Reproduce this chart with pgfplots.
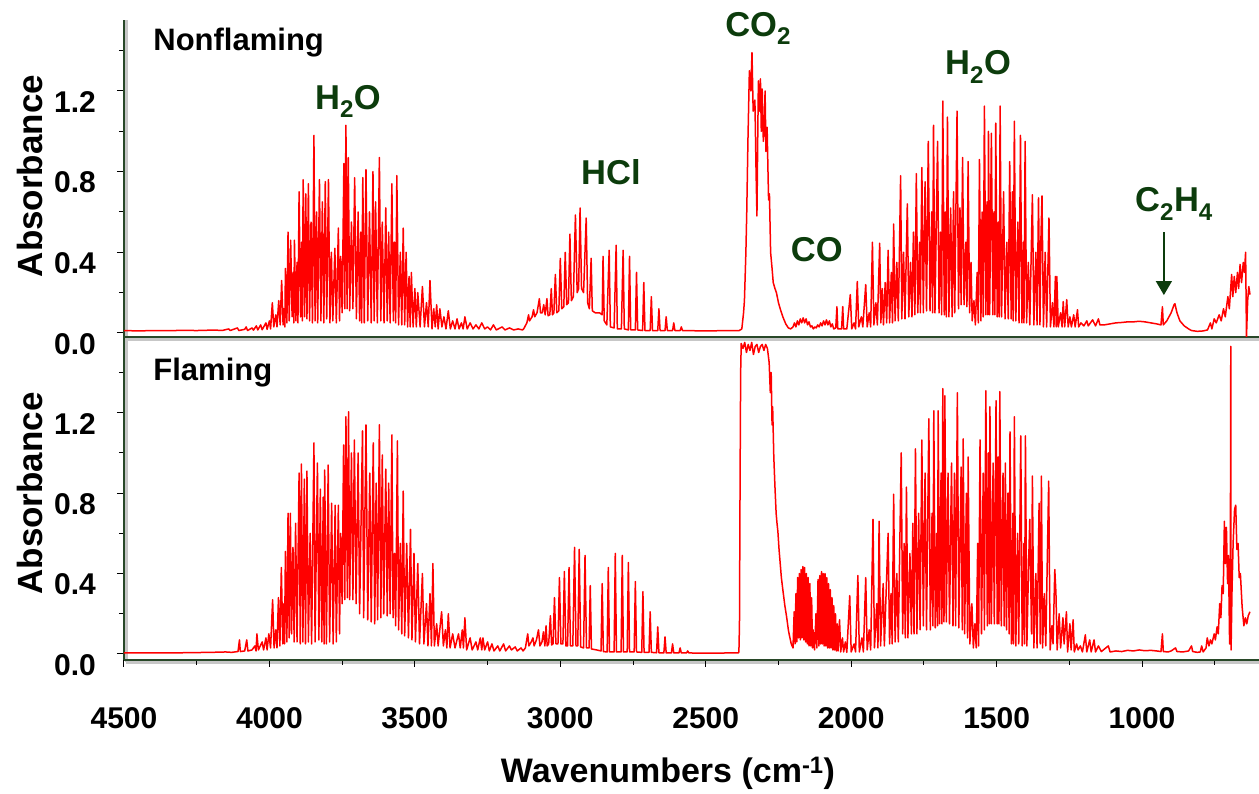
\documentclass[border=0pt]{standalone}
\usepackage{fontspec}
\setmainfont{Liberation Sans}
\usepackage{pgfplots}
\pgfplotsset{compat=1.18}
\usetikzlibrary{arrows.meta}
\definecolor{axgreen}{RGB}{40,72,40}
\definecolor{annot}{RGB}{12,60,12}
\definecolor{specred}{RGB}{255,0,0}
\pgfplotsset{
  panel/.style={
    scale only axis, width=1135pt, x dir=reverse, xmin=598, xmax=4500,
    axis x line*=bottom, axis y line*=left,
    axis line style={axgreen, line width=2pt},
    ytick={0,0.4,0.8,1.2}, yticklabels={0.0,0.4,0.8,1.2},
    minor ytick={0.2,0.6,1.0,1.4},
    tick style={black, line width=1pt}, tick align=outside,
    major tick length=7pt, minor tick length=5pt,
    ticklabel style={font=\fontsize{30}{30}\selectfont\bfseries},
    yticklabel style={anchor=east, inner sep=0pt, xshift=-21pt, yshift=-11pt},
    xticklabel style={anchor=base, inner sep=0pt, yshift=-62pt},
    clip mode=individual,
  },
  spec/.style={specred, line width=1.5pt, line join=round, mark=none},
}
\begin{document}
\begin{tikzpicture}
% light shadows under the axis lines
\draw[black!22, line width=2.5pt] (2pt,-2.5pt) -- (1135pt,-2.5pt);
\draw[black!22, line width=2.5pt] (2pt,320.5pt) -- (1135pt,320.5pt);
\draw[black!22, line width=2.5pt] (2.5pt,-2pt) -- (2.5pt,640pt);
% ---------------- Flaming (bottom) ----------------
\begin{axis}[panel, at={(0pt,0pt)}, anchor=south west, height=323pt,
  ymin=-0.03, ymax=1.577,
  xtick={1000,1500,2000,2500,3000,3500,4000,4500},
  xticklabels={1000,1500,2000,2500,3000,3500,4000,4500},
  minor xtick={750,1250,1750,2250,2750,3250,3750,4250}]
\addplot[spec] coordinates {
(4500,0.005) (4400,0.006) (4300,0.006) (4200,0.008) (4150,0.010) (4130,0.008) (4108,0.012) (4103,0.07) (4100,0.012)
(4085,0.015) (4078,0.07) (4074,0.015) (4060,0.02) (4050,0.04) (4046,0.015) (4043,0.10) (4038,0.02) (4025,0.06) (4020,0.02)
(4012,0.08) (4008,0.02) (4002,0.10) (3996,0.03)
(3989,0.27) (3984,0.03) (3978,0.12) (3974,0.03) (3969,0.28) (3964,0.04) (3959,0.43) (3954,0.05) (3950,0.25) (3948,0.05)
(3945,0.51) (3940,0.06) (3936,0.70) (3932,0.08) (3928,0.70) (3924,0.10) (3919,0.53) (3915,0.06) (3910,0.65) (3905,0.06)
(3898,0.90) (3894,0.05) (3890,0.945) (3885,0.06) (3880,0.87) (3876,0.05) (3871,0.91) (3866,0.06) (3860,0.60) (3855,0.05)
(3847,1.05) (3843,0.06) (3835,0.95) (3830,0.07) (3825,0.82) (3820,0.06) (3815,0.78) (3812,0.05) (3810,0.915) (3804,0.05)
(3798,0.94) (3793,0.06) (3786,0.75) (3781,0.05) (3774,0.74) (3770,0.06) (3763,0.74) (3759,0.10) (3755,0.60) (3750,0.25)
(3745,1.04) (3741,0.27) (3737,1.18) (3732,0.28) (3728,1.205) (3724,0.27) (3718,1.00) (3713,0.27) (3708,1.065) (3702,0.25)
(3695,1.00) (3690,0.20) (3680,1.11) (3676,0.18) (3668,1.14) (3662,0.17) (3655,0.90) (3650,0.16) (3643,1.05) (3638,0.15)
(3633,0.85) (3628,0.17) (3622,1.14) (3617,0.18) (3612,0.99) (3607,0.20) (3600,0.92) (3595,0.19) (3590,0.85) (3585,0.20)
(3579,1.09) (3575,0.18) (3570,0.50) (3566,0.14) (3560,1.06) (3556,0.12) (3550,0.55) (3545,0.10) (3540,0.81) (3535,0.09)
(3528,0.55) (3522,0.08) (3515,0.62) (3510,0.07) (3503,0.50) (3498,0.06) (3490,0.45) (3484,0.05) (3474,0.40) (3469,0.05)
(3460,0.25) (3455,0.04) (3448,0.30) (3443,0.04) (3438,0.45) (3433,0.04) (3425,0.15) (3420,0.04) (3408,0.21) (3402,0.04)
(3395,0.12) (3390,0.03) (3385,0.20) (3379,0.03) (3370,0.10) (3362,0.03) (3350,0.10) (3344,0.03) (3337,0.12) (3333,0.03)
(3328,0.18) (3322,0.02) (3310,0.08) (3303,0.02) (3290,0.06) (3284,0.02) (3275,0.08) (3270,0.02) (3266,0.08) (3260,0.02)
(3250,0.06) (3244,0.015) (3235,0.05) (3228,0.015) (3215,0.04) (3208,0.015) (3195,0.05) (3188,0.015) (3175,0.04) (3168,0.02)
(3155,0.035) (3148,0.015) (3135,0.03) (3128,0.015)
(3120,0.03) (3112,0.10) (3108,0.04) (3100,0.06) (3094,0.08) (3090,0.04) (3082,0.07) (3075,0.12) (3070,0.04) (3063,0.06)
(3058,0.11) (3053,0.04) (3049,0.14) (3045,0.04) (3040,0.05) (3034,0.19) (3030,0.045) (3025,0.05) (3020,0.28) (3015,0.05)
(3008,0.05) (3003,0.38) (2998,0.05) (2991,0.05) (2986,0.41) (2981,0.04) (2975,0.04) (2970,0.43) (2965,0.04) (2957,0.04)
(2951,0.53) (2946,0.04) (2940,0.04) (2935,0.52) (2930,0.035) (2920,0.03) (2915,0.49) (2910,0.03) (2901,0.03) (2897,0.34)
(2893,0.025) (2875,0.02) (2860,0.015) (2856,0.35) (2852,0.012) (2839,0.01) (2835,0.43) (2831,0.01) (2815,0.01) (2811,0.50)
(2807,0.01) (2791,0.01) (2787,0.49) (2783,0.01) (2770,0.01) (2766,0.455) (2762,0.01) (2746,0.01) (2742,0.36) (2738,0.01)
(2720,0.008) (2716,0.31) (2712,0.008) (2695,0.008) (2691,0.21) (2687,0.008) (2669,0.006) (2665,0.135) (2661,0.006)
(2644,0.005) (2640,0.085) (2636,0.005) (2618,0.005) (2614,0.05) (2610,0.005) (2592,0.005) (2588,0.03) (2584,0.005)
(2566,0.005) (2562,0.015) (2558,0.005) (2500,0.004) (2420,0.005) (2388,0.005)
(2386,0.01) (2384,0.15) (2382,0.85) (2380,1.40) (2378,1.545) (2372,1.52) (2366,1.55) (2360,1.50) (2354,1.54) (2348,1.51)
(2342,1.55) (2336,1.49) (2330,1.53) (2324,1.54) (2318,1.50) (2312,1.53) (2306,1.54) (2300,1.51) (2294,1.54) (2288,1.52)
(2282,1.45) (2278,1.30) (2275,1.40) (2272,1.14) (2270,1.23) (2266,0.98) (2262,0.83) (2258,0.70) (2255,0.65) (2252,0.61)
(2248,0.52) (2244,0.45) (2240,0.38) (2235,0.32) (2228,0.24) (2222,0.185) (2216,0.12) (2212,0.09) (2206,0.05)
(2200,0.03) (2196,0.21) (2193,0.05) (2190,0.30) (2187,0.06) (2184,0.38) (2181,0.08) (2178,0.40) (2175,0.07) (2172,0.42)
(2169,0.08) (2166,0.435) (2163,0.07) (2160,0.43) (2157,0.06) (2154,0.40) (2151,0.05) (2148,0.38) (2145,0.04) (2142,0.35)
(2139,0.04) (2136,0.28) (2133,0.03) (2131,0.12) (2126,0.02) (2121,0.20) (2118,0.03) (2114,0.37) (2111,0.04) (2108,0.39)
(2105,0.05) (2102,0.41) (2099,0.05) (2096,0.40) (2093,0.04) (2090,0.40) (2087,0.04) (2084,0.38) (2081,0.03) (2078,0.35)
(2075,0.03) (2072,0.32) (2069,0.03) (2066,0.28) (2063,0.02) (2060,0.24) (2057,0.02) (2054,0.20) (2051,0.015) (2048,0.15)
(2045,0.015) (2040,0.17) (2036,0.01) (2030,0.08) (2026,0.01) (2020,0.06) (2015,0.008) (2005,0.29) (2000,0.01) (1990,0.05)
(1985,0.01) (1977,0.39) (1972,0.01) (1963,0.08) (1958,0.01) (1950,0.38) (1945,0.02) (1938,0.12) (1933,0.02)
(1925,0.67) (1920,0.03) (1912,0.25) (1908,0.03) (1904,0.66) (1899,0.04) (1890,0.35) (1886,0.04) (1873,0.60) (1868,0.05)
(1863,0.30) (1859,0.05) (1854,0.795) (1849,0.06) (1843,0.40) (1838,0.06) (1828,1.00) (1823,0.10) (1818,0.55) (1814,0.08)
(1810,0.83) (1805,0.08) (1798,0.50) (1793,0.10) (1788,0.65) (1784,0.10) (1779,1.02) (1774,0.10) (1768,0.70) (1763,0.12)
(1757,1.065) (1752,0.14) (1746,0.90) (1741,0.12) (1733,1.17) (1728,0.12) (1722,0.70) (1719,0.14) (1716,1.21) (1711,0.13)
(1706,0.60) (1703,0.14) (1701,1.21) (1696,0.15) (1691,0.90) (1688,0.15) (1685,1.32) (1681,0.16) (1678,1.285) (1673,0.16)
(1667,0.90) (1662,0.15) (1655,0.95) (1650,0.14) (1645,0.90) (1641,0.14) (1635,1.30) (1630,0.13) (1622,0.93) (1618,0.12)
(1615,1.07) (1610,0.10) (1604,0.80) (1600,0.08) (1598,0.98) (1592,0.05) (1585,0.25) (1580,0.03) (1575,0.15) (1570,0.03)
(1565,0.55) (1562,0.04) (1557,1.065) (1552,0.10) (1546,0.90) (1542,0.12) (1537,1.31) (1532,0.14) (1528,1.00) (1525,0.15)
(1523,1.23) (1518,0.15) (1512,0.95) (1508,0.15) (1502,1.26) (1498,0.15) (1495,0.98) (1492,0.15) (1489,1.305) (1484,0.14)
(1478,0.90) (1474,0.14) (1470,0.95) (1466,0.12) (1461,0.80) (1457,0.10) (1454,1.105) (1449,0.05) (1444,0.70) (1442,0.05)
(1439,1.18) (1434,0.04) (1428,0.60) (1424,0.05) (1417,1.085) (1412,0.04) (1406,0.55) (1404,0.05) (1401,1.085) (1396,0.04)
(1390,0.45) (1386,0.67) (1380,0.10) (1377,0.885) (1372,0.03) (1365,0.40) (1361,0.03) (1354,0.75) (1350,0.05) (1346,0.885)
(1342,0.03) (1336,0.30) (1331,0.04) (1321,0.86) (1316,0.02) (1310,0.14) (1306,0.05) (1300,0.42) (1296,0.30) (1292,0.02)
(1285,0.20) (1280,0.03) (1272,0.18) (1268,0.05) (1260,0.21) (1256,0.01) (1248,0.15) (1244,0.02) (1237,0.17) (1233,0.01)
(1225,0.05) (1220,0.02) (1212,0.04) (1205,0.01) (1195,0.095) (1190,0.01) (1180,0.07) (1175,0.01) (1165,0.07) (1160,0.01)
(1150,0.04) (1140,0.012) (1116,0.04) (1110,0.01) (1090,0.015) (1070,0.012) (1050,0.018) (1030,0.015) (1010,0.02)
(990,0.016) (970,0.018) (950,0.015) (935,0.012) (930,0.10) (927,0.012) (910,0.01) (900,0.015) (885,0.03) (880,0.012)
(860,0.01) (840,0.015) (830,0.04) (826,0.012) (810,0.008) (800,0.01) (795,0.04) (790,0.01) (780,0.03) (776,0.08)
(770,0.04) (765,0.07) (760,0.05) (752,0.10) (748,0.07) (742,0.135) (738,0.10) (733,0.25) (729,0.18) (725,0.34)
(721,0.30) (717,0.66) (714,0.45) (710,0.63) (706,0.35) (703,0.49) (699,0.05) (697,0.05) (695,1.53) (694,0.02)
(691,0.30) (687,0.55) (682,0.72) (678,0.74) (674,0.52) (670,0.55) (666,0.38) (662,0.40) (656,0.235) (650,0.14)
(645,0.18) (640,0.15) (635,0.19) (629,0.21)
};
\node[anchor=base west, font=\fontsize{31}{31}\selectfont\bfseries] at (axis cs:4411,1.36) {Flaming};
\end{axis}
% ---------------- Nonflaming (top) ----------------
\begin{axis}[panel, at={(0pt,323pt)}, anchor=south west, height=317pt,
  ymin=-0.02, ymax=1.552, xtick=\empty, minor xtick={}]
\addplot[spec] coordinates {
(4500,0.012) (4450,0.010) (4400,0.012) (4350,0.011) (4300,0.013) (4250,0.012) (4200,0.014) (4160,0.013) (4140,0.020)
(4135,0.012) (4110,0.025) (4105,0.012) (4085,0.018) (4080,0.030) (4075,0.012) (4060,0.025) (4055,0.014) (4045,0.035)
(4040,0.015) (4030,0.040) (4025,0.016) (4012,0.050) (4008,0.018) (4000,0.060) (3996,0.020)
(3990,0.15) (3985,0.03) (3978,0.09) (3974,0.03) (3968,0.16) (3963,0.04) (3958,0.26) (3953,0.04) (3950,0.12) (3947,0.03)
(3945,0.32) (3940,0.05) (3936,0.50) (3932,0.06) (3927,0.46) (3922,0.08) (3918,0.30) (3916,0.05) (3914,0.46) (3909,0.06)
(3905,0.35) (3902,0.05) (3898,0.70) (3893,0.08) (3889,0.45) (3887,0.06) (3884,0.76) (3879,0.08) (3875,0.69) (3871,0.07)
(3866,0.74) (3862,0.06) (3857,0.55) (3852,0.05) (3847,0.98) (3843,0.06) (3838,0.60) (3834,0.05) (3828,0.76) (3823,0.06)
(3818,0.65) (3813,0.05) (3808,0.75) (3803,0.07) (3797,0.76) (3792,0.05) (3787,0.40) (3782,0.06) (3775,0.42) (3770,0.05)
(3763,0.52) (3759,0.06) (3755,0.38) (3750,0.10) (3744,0.84) (3741,0.12) (3737,1.03) (3733,0.12) (3729,0.87) (3724,0.11)
(3718,0.55) (3713,0.12) (3707,0.77) (3701,0.07) (3695,0.60) (3690,0.06) (3686,0.50) (3683,0.05) (3679,0.77) (3674,0.05)
(3668,0.81) (3662,0.06) (3656,0.60) (3650,0.05) (3644,0.80) (3640,0.06) (3635,0.65) (3629,0.05) (3622,0.87) (3617,0.06)
(3612,0.55) (3606,0.05) (3600,0.62) (3595,0.06) (3590,0.50) (3585,0.05) (3579,0.74) (3574,0.06) (3570,0.45) (3566,0.05)
(3562,0.78) (3556,0.04) (3550,0.40) (3545,0.04) (3540,0.52) (3535,0.04) (3530,0.40) (3525,0.03) (3520,0.28) (3516,0.03)
(3512,0.30) (3506,0.03) (3500,0.22) (3495,0.03) (3490,0.20) (3482,0.03) (3474,0.23) (3467,0.03) (3460,0.15) (3454,0.03)
(3448,0.26) (3441,0.02) (3435,0.12) (3430,0.03) (3425,0.14) (3420,0.02) (3414,0.12) (3407,0.03) (3400,0.08) (3393,0.02)
(3385,0.11) (3378,0.02) (3370,0.06) (3362,0.02) (3355,0.07) (3348,0.02) (3340,0.05) (3334,0.02) (3328,0.08) (3320,0.02)
(3310,0.05) (3300,0.02) (3290,0.04) (3280,0.02) (3270,0.05) (3260,0.02) (3250,0.03) (3240,0.015) (3230,0.04) (3220,0.015)
(3200,0.03) (3190,0.015) (3175,0.025) (3160,0.015) (3145,0.02) (3130,0.015)
(3126,0.02) (3115,0.05) (3109,0.09) (3106,0.06) (3097,0.08) (3092,0.115) (3088,0.08) (3080,0.10) (3072,0.17) (3068,0.10)
(3062,0.10) (3057,0.14) (3052,0.09) (3046,0.17) (3042,0.085) (3036,0.09) (3031,0.22) (3027,0.09) (3022,0.10) (3017,0.29)
(3012,0.10) (3005,0.11) (3000,0.37) (2995,0.12) (2988,0.13) (2983,0.40) (2978,0.14) (2972,0.15) (2967,0.49) (2962,0.16)
(2955,0.18) (2948,0.585) (2942,0.20) (2937,0.22) (2932,0.62) (2927,0.22) (2920,0.20) (2911,0.57) (2906,0.15) (2900,0.12)
(2894,0.37) (2890,0.11) (2880,0.10) (2865,0.10) (2856,0.09) (2853,0.38) (2849,0.06) (2840,0.04) (2832,0.41) (2828,0.03)
(2815,0.025) (2808,0.435) (2804,0.02) (2790,0.02) (2784,0.41) (2780,0.02) (2766,0.015) (2762,0.38) (2758,0.015)
(2742,0.015) (2738,0.30) (2734,0.015) (2717,0.012) (2713,0.25) (2709,0.012) (2691,0.012) (2687,0.18) (2683,0.012)
(2665,0.012) (2661,0.12) (2657,0.012) (2640,0.012) (2636,0.08) (2632,0.012) (2614,0.012) (2610,0.05) (2606,0.012)
(2588,0.012) (2584,0.03) (2580,0.012) (2500,0.010) (2420,0.012) (2385,0.012)
(2376,0.02) (2370,0.10) (2367,0.16) (2362,0.40) (2359,0.60) (2355,0.95) (2350,1.30) (2345,1.20) (2341,1.39) (2337,1.10)
(2331,1.155) (2327,0.80) (2324,0.58) (2321,1.00) (2319,1.25) (2315,1.10) (2312,1.26) (2309,1.00) (2306,1.21) (2302,0.95)
(2299,1.00) (2296,1.20) (2293,0.90) (2289,1.02) (2286,0.80) (2284,0.66) (2281,0.69) (2277,0.40) (2272,0.32) (2268,0.25)
(2262,0.22) (2257,0.20) (2250,0.15) (2244,0.12) (2235,0.08) (2225,0.045) (2216,0.025) (2208,0.02)
(2200,0.03) (2195,0.05) (2190,0.03) (2185,0.06) (2180,0.04) (2175,0.07) (2170,0.05) (2165,0.075) (2160,0.05) (2155,0.07)
(2150,0.04) (2145,0.055) (2140,0.03) (2135,0.035) (2130,0.02) (2125,0.03) (2120,0.025) (2115,0.04) (2110,0.03) (2105,0.05)
(2100,0.035) (2095,0.06) (2090,0.04) (2085,0.065) (2080,0.04) (2075,0.06) (2070,0.03) (2065,0.045) (2060,0.02) (2053,0.025)
(2049,0.13) (2046,0.02) (2033,0.02) (2029,0.13) (2026,0.02)
(2015,0.02) (2003,0.19) (1998,0.02) (1990,0.05) (1985,0.02) (1979,0.255) (1974,0.03) (1965,0.08) (1960,0.03) (1950,0.24)
(1945,0.03) (1938,0.10) (1933,0.03) (1927,0.45) (1922,0.04) (1915,0.15) (1910,0.04) (1902,0.445) (1898,0.05) (1893,0.22)
(1889,0.04) (1883,0.25) (1878,0.05) (1873,0.41) (1868,0.05) (1862,0.30) (1858,0.05) (1854,0.54) (1849,0.06) (1843,0.35)
(1838,0.06) (1830,0.78) (1826,0.07) (1820,0.40) (1815,0.07) (1807,0.64) (1802,0.08) (1796,0.35) (1791,0.08) (1786,0.50)
(1781,0.09) (1776,0.79) (1771,0.10) (1765,0.45) (1762,0.10) (1757,0.82) (1752,0.10) (1746,0.75) (1741,0.11) (1735,0.95)
(1729,0.11) (1723,0.60) (1720,0.10) (1717,1.03) (1712,0.10) (1703,0.95) (1698,0.10) (1693,0.50) (1689,0.09) (1685,1.15)
(1680,0.09) (1676,0.60) (1673,0.08) (1669,1.07) (1664,0.08) (1658,0.62) (1653,0.08) (1648,0.70) (1644,0.10) (1636,1.10)
(1631,0.12) (1626,0.62) (1622,0.14) (1617,0.87) (1612,0.14) (1606,0.45) (1602,0.13) (1598,0.85) (1593,0.10) (1588,0.35)
(1584,0.06) (1578,0.16) (1573,0.04) (1567,0.30) (1563,0.05) (1559,0.86) (1554,0.06) (1550,0.60) (1546,0.08) (1542,1.125)
(1537,0.09) (1533,0.65) (1530,0.09) (1528,1.00) (1524,0.09) (1518,0.99) (1513,0.09) (1509,0.60) (1506,0.09) (1503,1.04)
(1498,0.08) (1494,0.55) (1491,0.08) (1488,1.125) (1483,0.08) (1476,0.70) (1471,0.07) (1465,0.45) (1460,0.07) (1455,0.85)
(1450,0.07) (1446,0.70) (1443,0.06) (1439,1.05) (1434,0.06) (1427,0.55) (1423,0.05) (1418,0.98) (1413,0.05) (1408,0.45)
(1406,0.05) (1402,0.95) (1397,0.05) (1391,0.35) (1386,0.04) (1377,0.685) (1372,0.04) (1365,0.40) (1361,0.04) (1356,0.67)
(1351,0.04) (1348,0.45) (1344,0.68) (1339,0.03) (1333,0.40) (1328,0.03) (1320,0.57) (1315,0.03) (1308,0.15) (1303,0.03)
(1298,0.28) (1295,0.03) (1293,0.28) (1288,0.03) (1280,0.10) (1275,0.03) (1271,0.155) (1266,0.03) (1259,0.165) (1254,0.03)
(1248,0.08) (1243,0.03) (1235,0.09) (1230,0.03) (1222,0.115) (1218,0.03) (1210,0.05) (1200,0.035) (1190,0.06) (1185,0.035)
(1170,0.065) (1160,0.035) (1150,0.07) (1145,0.04) (1130,0.04) (1110,0.045) (1090,0.05) (1070,0.052) (1050,0.055)
(1030,0.055) (1010,0.058) (990,0.055) (970,0.05) (950,0.045) (935,0.04) (930,0.13) (927,0.04) (915,0.06) (900,0.10)
(890,0.14) (887,0.145) (880,0.10) (870,0.06) (855,0.035) (840,0.02) (830,0.012) (810,0.008) (790,0.01) (775,0.015)
(765,0.05) (760,0.02) (752,0.07) (745,0.05) (735,0.09) (728,0.06) (720,0.12) (714,0.08) (705,0.18) (700,0.12)
(692,0.29) (688,0.18) (683,0.28) (678,0.20) (672,0.30) (668,0.22) (663,0.34) (658,0.25) (652,0.35) (648,0.30)
(644,0.40) (641,-0.02) (637,0.16) (633,0.23) (629,0.19)
};
\node[anchor=base west, font=\fontsize{31}{31}\selectfont\bfseries] at (axis cs:4411,1.403) {Nonflaming};
\begin{scope}[every node/.style={anchor=base, text=annot, font=\fontsize{34.5}{34.5}\selectfont\bfseries}]
\node at (axis cs:3730,1.11) {H\textsubscript{2}O};
\node at (axis cs:2826,0.734) {HCl};
\node at (axis cs:2320,1.47) {CO\textsubscript{2}};
\node at (axis cs:2118,0.354) {CO};
\node at (axis cs:1564,1.28) {H\textsubscript{2}O};
\node at (axis cs:890,0.60) {C\textsubscript{2}H\textsubscript{4}};
\end{scope}
\draw[annot, line width=1.5pt, -{Triangle[width=16pt,length=14pt]}] (axis cs:925,0.50) -- (axis cs:925,0.188);
\end{axis}
% ---------------- outer labels ----------------
\node[rotate=90, anchor=base, font=\fontsize{35}{35}\selectfont\bfseries] at (-81pt,484pt) {Absorbance};
\node[rotate=90, anchor=base, font=\fontsize{35}{35}\selectfont\bfseries] at (-81pt,166.5pt) {Absorbance};
\node[anchor=base, font=\fontsize{34}{34}\selectfont\bfseries] at (544pt,-123pt) {Wavenumbers (cm\textsuperscript{-1})};
\pgfresetboundingbox
\path[use as bounding box] (-124pt,-134pt) rectangle (1135pt,660pt);
\end{tikzpicture}
\end{document}
